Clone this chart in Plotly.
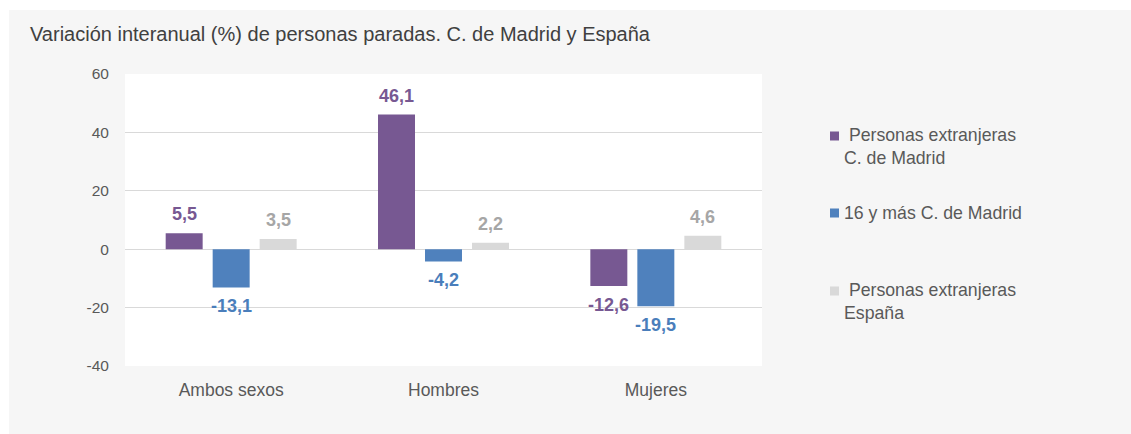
import plotly.graph_objects as go

# Categories and series (year-on-year % change in unemployed people)
categories = ["Ambos sexos", "Hombres", "Mujeres"]
series_names = [
    "Personas extranjeras C. de Madrid",
    "16 y más C. de Madrid",
    "Personas extranjeras España",
]
legend_labels = [
    "\u00a0Personas extranjeras<br>C. de Madrid",
    "16 y más C. de Madrid",
    "\u00a0Personas extranjeras<br>España",
]
extranjeras_madrid = [5.5, 46.1, -12.6]
mayores16_madrid = [-13.1, -4.2, -19.5]
extranjeras_espana = [3.5, 2.2, 4.6]
series_values = [extranjeras_madrid, mayores16_madrid, extranjeras_espana]

y_ticks = [-40, -20, 0, 20, 40, 60]
y_tick_labels = ["-40", "-20", "0", "20", "40", "60"]

bar_colors = ["#775892", "#4f81bd", "#d9d9d9"]
label_colors = ["#775892", "#4a7ebb", "#a6a6a6"]

FONT = "Liberation Sans, Arial, sans-serif"
W, H = 1131, 434
ML, MR, MT, MB = 125, W - 762, 74, H - 366
PW, PH = W - ML - MR, H - MT - MB


def px_x(px):
    return (px - ML) / PW


def px_y(py):
    return (H - MB - py) / PH


def fmt(v):
    return f"{v:.1f}".replace(".", ",")


fig = go.Figure()
for name, vals, col in zip(series_names, series_values, bar_colors):
    fig.add_trace(go.Bar(
        x=categories, y=vals, name=name,
        marker=dict(color=col, line=dict(width=0)),
        showlegend=False, hoverinfo="x+y+name",
    ))

# value labels placed just beyond each bar end
annotations = []
slot = 47
for i, (vals, col) in enumerate(zip(series_values, label_colors)):
    for cat, v in zip(categories, vals):
        annotations.append(dict(
            x=cat, y=v, xref="x", yref="y", text=f"<b>{fmt(v)}</b>",
            showarrow=False, xshift=(i - 1) * slot,
            yshift=19 if v >= 0 else -19, yanchor="middle",
            font=dict(family=FONT, size=18, color=col),
        ))

# legend: coloured squares with text to their right
legend_centers = [136, 213, 291]
shapes = [
    # white page margin around the grey panel
    dict(type="rect", xref="paper", yref="paper", x0=-0.5, x1=2.0,
         y0=px_y(10), y1=px_y(-40), fillcolor="white", line=dict(width=0),
         layer="below"),
    dict(type="rect", xref="paper", yref="paper", x0=-0.5, x1=px_x(9),
         y0=px_y(500), y1=px_y(-40), fillcolor="white", line=dict(width=0),
         layer="below"),
]
for label, col, cy in zip(legend_labels, bar_colors, legend_centers):
    shapes.append(dict(
        type="rect", xref="paper", yref="paper",
        x0=px_x(830), x1=px_x(839), y0=px_y(cy + 4.5), y1=px_y(cy - 4.5),
        fillcolor=col, line=dict(width=0),
    ))
    n_lines = label.count("<br>") + 1
    annotations.append(dict(
        x=px_x(842), y=px_y(cy + (n_lines - 1) * 10.5), xref="paper", yref="paper",
        text=label, showarrow=False, xanchor="left", yanchor="middle",
        align="left", font=dict(family=FONT, size=17.7, color="#595959"),
    ))

fig.update_layout(
    width=W, height=H,
    margin=dict(l=ML, r=MR, t=MT, b=MB, pad=0),
    paper_bgcolor="#f6f6f6", plot_bgcolor="white",
    barmode="group", bargap=0.336, bargroupgap=0.213,
    title=dict(
        text="Variación interanual (%) de personas paradas. C. de Madrid y España",
        x=30 / W, xref="container", xanchor="left",
        y=1 - 34 / H, yref="container", yanchor="middle",
        font=dict(family=FONT, size=20, color="#404040"),
    ),
    font=dict(family=FONT, color="#595959"),
    xaxis=dict(
        showgrid=False, showline=False, zeroline=False,
        ticks="outside", ticklen=8, tickcolor="rgba(0,0,0,0)",
        tickfont=dict(size=17.5, color="#595959"),
    ),
    yaxis=dict(
        range=[-40, 60], tickvals=y_ticks, ticktext=y_tick_labels,
        showgrid=True, gridcolor="#d9d9d9", gridwidth=1.3,
        zeroline=True, zerolinecolor="#d9d9d9", zerolinewidth=1.3,
        showline=False, ticks="outside", ticklen=12,
        tickcolor="rgba(0,0,0,0)",
        tickfont=dict(size=15.5, color="#595959"),
    ),
    shapes=shapes, annotations=annotations, showlegend=False,
)

fig.write_html("out.html")
